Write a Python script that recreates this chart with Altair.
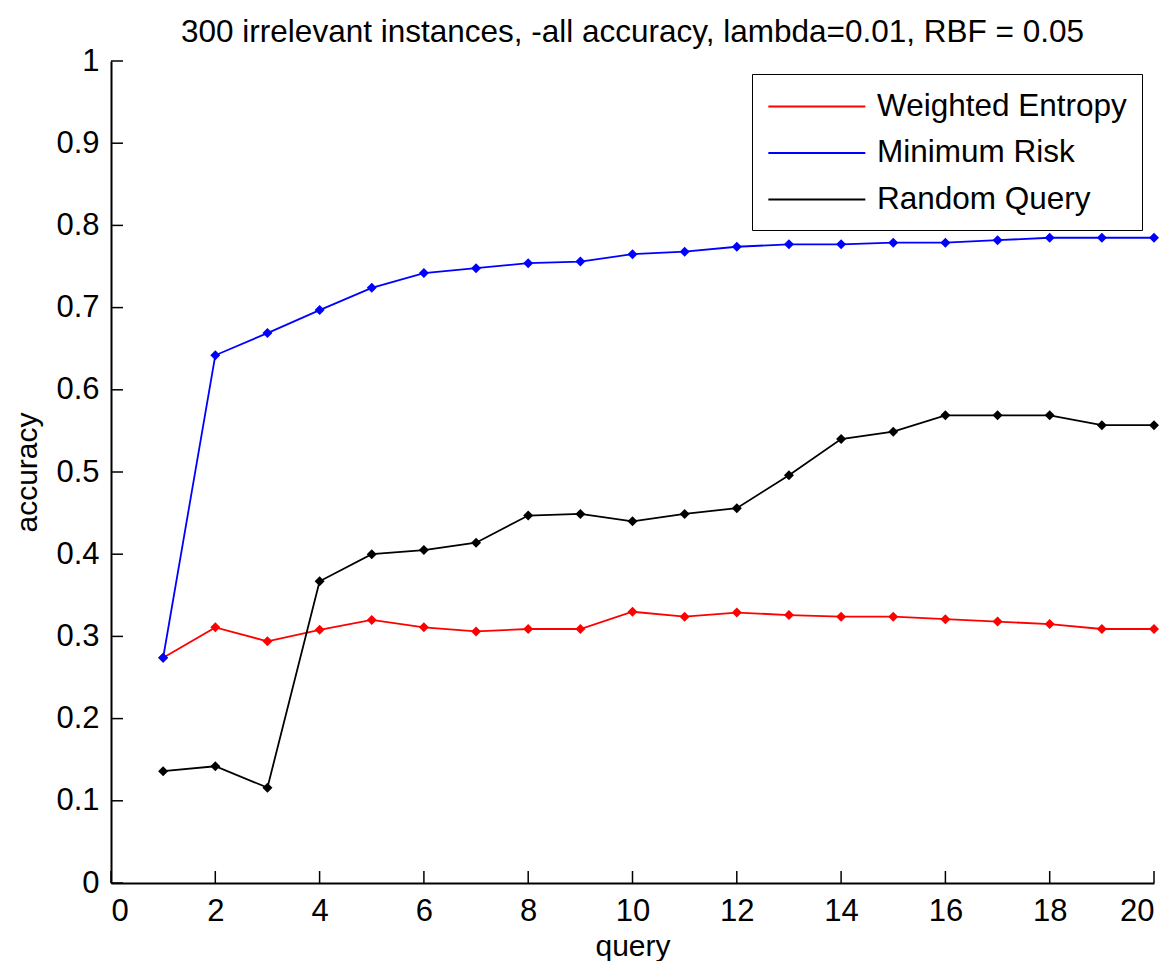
import altair as alt
import pandas as pd

queries = list(range(1, 21))
weighted_entropy = [0.274, 0.311, 0.294, 0.308, 0.320, 0.311, 0.306, 0.309, 0.309, 0.330,
                    0.324, 0.329, 0.326, 0.324, 0.324, 0.321, 0.318, 0.315, 0.309, 0.309]
minimum_risk = [0.274, 0.642, 0.669, 0.697, 0.724, 0.742, 0.748, 0.754, 0.756, 0.765,
                0.768, 0.774, 0.777, 0.777, 0.779, 0.779, 0.782, 0.785, 0.785, 0.785]
random_query = [0.136, 0.142, 0.116, 0.367, 0.400, 0.405, 0.414, 0.447, 0.449, 0.440,
                0.449, 0.456, 0.496, 0.540, 0.549, 0.569, 0.569, 0.569, 0.557, 0.557]
series_names = ["Weighted Entropy", "Minimum Risk", "Random Query"]
series_colors = ["#ff0000", "#0000ff", "#000000"]
x_ticks = list(range(0, 21, 2))
y_ticks = [round(i / 10, 1) for i in range(0, 11)]

rows = []
for name, vals in zip(series_names, [weighted_entropy, minimum_risk, random_query]):
    for q, v in zip(queries, vals):
        rows.append({"query": q, "accuracy": v, "series": name})
df = pd.DataFrame(rows)

W, H = 1043, 822
FONT = "Liberation Sans"
FS = 31

xscale = alt.Scale(domain=[0, 20], nice=False, zero=False)
yscale = alt.Scale(domain=[0, 1], nice=False)
xaxis = alt.Axis(values=x_ticks, title="query", grid=False, ticks=False, tickSize=0,
                 labelPadding=13, titlePadding=5, format="d")
yaxis = alt.Axis(values=y_ticks, title="accuracy", grid=False, ticks=False, tickSize=0,
                 labelPadding=12, titlePadding=13, format="~g")
x_enc = alt.X("query:Q", scale=xscale, axis=xaxis)
y_enc = alt.Y("accuracy:Q", scale=yscale, axis=yaxis)

color = alt.Color(
    "series:N",
    scale=alt.Scale(domain=series_names, range=series_colors),
    sort=series_names,
    legend=alt.Legend(
        title=None, orient="none", legendX=641, legendY=13,
        symbolType="M-1,0H5", symbolSize=1045, symbolStrokeWidth=1.8,
        labelFontSize=31.5, labelFont=FONT, labelColor="#000000",
        strokeColor="#000000", fillColor="#ffffff", padding=15,
        rowPadding=13.5, labelOffset=75, labelLimit=400,
    ),
)

base = alt.Chart(df).encode(x=x_enc, y=y_enc, color=color)
lines = base.mark_line(strokeWidth=1.8)
points = base.mark_point(shape="diamond", filled=True, size=100, opacity=1)

xt = alt.Chart(pd.DataFrame({"query": x_ticks})).mark_rule(color="#000000", strokeWidth=1.5).encode(
    x=x_enc, y=alt.value(H), y2=alt.value(H - 12))
yt = alt.Chart(pd.DataFrame({"accuracy": y_ticks})).mark_rule(color="#000000", strokeWidth=1.5).encode(
    y=y_enc, x=alt.value(0), x2=alt.value(12))

chart = alt.layer(lines, points, xt, yt).properties(
    width=W, height=H,
    title=alt.TitleParams("300 irrelevant instances, -all accuracy, lambda=0.01, RBF = 0.05",
                          fontSize=31.5, font=FONT, fontWeight="normal", color="#000000", offset=-3),
    padding={"left": 103, "top": 53, "right": 11, "bottom": 78},
    autosize="none",
).configure_view(stroke=None).configure_axis(
    domainColor="#000000", domainWidth=2, labelFont=FONT, titleFont=FONT,
    labelFontSize=FS, titleFontSize=30, labelColor="#000000", titleColor="#000000",
    titleFontWeight="normal",
)

chart.save("out.html", embed_options={"renderer": "svg", "actions": False})
